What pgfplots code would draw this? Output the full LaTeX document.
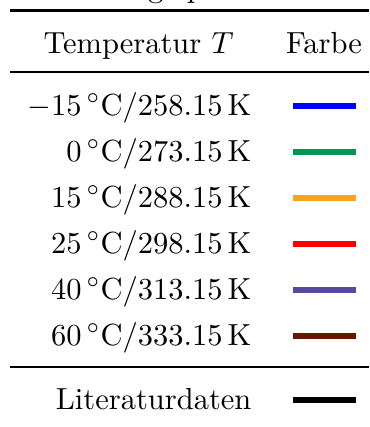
\documentclass[border=0pt]{standalone}
\usepackage{pgfplots}
\pgfplotsset{compat=1.18}

\definecolor{cblue}{RGB}{0,0,255}
\definecolor{cgreen}{RGB}{0,150,84}
\definecolor{corange}{RGB}{250,162,30}
\definecolor{cred}{RGB}{255,0,0}
\definecolor{cpurple}{RGB}{88,72,160}
\definecolor{cbrown}{RGB}{105,22,0}

\begin{document}
\begin{tikzpicture}
\begin{axis}[
  hide axis, clip=false, scale only axis,
  width=121pt, height=140pt,
  xmin=0, xmax=369, ymin=0, ymax=427,
  y dir=reverse,
]
% table rules
\addplot[black, line width=0.8pt] coordinates {(10,10.5) (369,10.5)};
\addplot[black, line width=0.5pt] coordinates {(10,72) (369,72)};
\addplot[black, line width=0.5pt] coordinates {(10,367) (369,367)};

% colour samples
\addplot[cblue,   line width=2pt] coordinates {(293,106) (356,106)};
\addplot[cgreen,  line width=2pt] coordinates {(293,152) (356,152)};
\addplot[corange, line width=2pt] coordinates {(293,198) (356,198)};
\addplot[cred,    line width=2pt] coordinates {(293,244) (356,244)};
\addplot[cpurple, line width=2pt] coordinates {(293,290) (356,290)};
\addplot[cbrown,  line width=2pt] coordinates {(293,336) (356,336)};
\addplot[black,   line width=2pt] coordinates {(293,400) (356,400)};

% caption above the table
\node[anchor=base west, inner sep=0] at (axis cs:72,-3) {Anzeige pro Reihe};

% header
\node[anchor=base west, inner sep=0] at (axis cs:43,53) {Temperatur $T$};
\node[anchor=base, inner sep=0] at (axis cs:324,53) {Farbe};

% rows
\node[anchor=base east, inner sep=0] at (axis cs:252,115) {$-15\,{}^{\circ}\mathrm{C}/258.15\,\mathrm{K}$};
\node[anchor=base east, inner sep=0] at (axis cs:252,161) {$0\,{}^{\circ}\mathrm{C}/273.15\,\mathrm{K}$};
\node[anchor=base east, inner sep=0] at (axis cs:252,207) {$15\,{}^{\circ}\mathrm{C}/288.15\,\mathrm{K}$};
\node[anchor=base east, inner sep=0] at (axis cs:252,253) {$25\,{}^{\circ}\mathrm{C}/298.15\,\mathrm{K}$};
\node[anchor=base east, inner sep=0] at (axis cs:252,299) {$40\,{}^{\circ}\mathrm{C}/313.15\,\mathrm{K}$};
\node[anchor=base east, inner sep=0] at (axis cs:252,345) {$60\,{}^{\circ}\mathrm{C}/333.15\,\mathrm{K}$};
\node[anchor=base east, inner sep=0] at (axis cs:252,409) {Literaturdaten};
\end{axis}
\pgfresetboundingbox
\path[use as bounding box] (current axis.south west) rectangle (current axis.north east);
\end{tikzpicture}
\end{document}
